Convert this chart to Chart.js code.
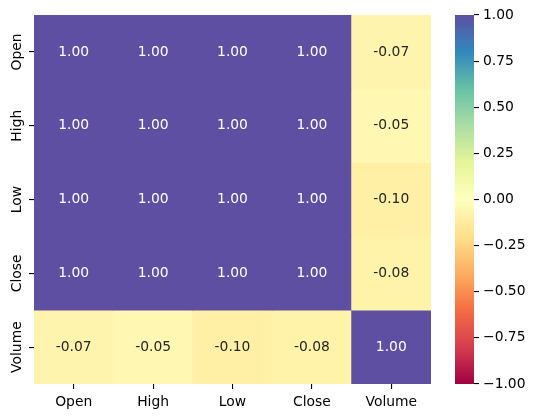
<!DOCTYPE html>
<html>
<head>
<meta charset="utf-8">
<title>Correlation heatmap</title>
<script src="https://cdn.jsdelivr.net/npm/chart.js@4"></script>
<style>
  html, body { margin: 0; padding: 0; background: #fff; }
  #wrap { position: relative; width: 535px; height: 418px; overflow: hidden; }
  canvas { position: absolute; top: 0; }
  #heat { left: 0; }
  #cbar { left: 455px; }
</style>
</head>
<body>
<div id="wrap">
  <canvas id="heat" width="535" height="418"></canvas>
  <canvas id="cbar" width="80" height="418"></canvas>
</div>
<script>
// --- DATA ---
const columns = ["Open", "High", "Low", "Close", "Volume"];
const rowOpen = [1.0, 1.0, 1.0, 1.0, -0.07];
const rowHigh = [1.0, 1.0, 1.0, 1.0, -0.05];
const rowLow = [1.0, 1.0, 1.0, 1.0, -0.1];
const rowClose = [1.0, 1.0, 1.0, 1.0, -0.08];
const rowVolume = [-0.07, -0.05, -0.1, -0.08, 1.0];
const rows = [rowOpen, rowHigh, rowLow, rowClose, rowVolume];
const colorbarRange = [-1, 1];
const colorbarTicks = [-1, -0.75, -0.5, -0.25, 0, 0.25, 0.5, 0.75, 1];

// --- COLORS ---
// Spectral colormap, low to high
const spectral = ["#9e0142", "#d53e4f", "#f46d43", "#fdae61", "#fee08b", "#ffffbf",
  "#e6f598", "#abdda4", "#66c2a5", "#3288bd", "#5e4fa2"];

function hexToRgb(hex) {
  return [1, 3, 5].map((i) => parseInt(hex.slice(i, i + 2), 16));
}

function valueToRgb(v) {
  const pos = ((v + 1) / 2) * (spectral.length - 1);
  const i = Math.min(Math.floor(pos), spectral.length - 2);
  const a = hexToRgb(spectral[i]);
  const b = hexToRgb(spectral[i + 1]);
  return a.map((c, k) => Math.round(c + (b[k] - c) * (pos - i)));
}

function valueToColor(v) {
  return `rgb(${valueToRgb(v).join(",")})`;
}

const FONT = "'DejaVu Sans', sans-serif";
const FONT_SIZE = 13.89;

Chart.defaults.animation = false;
Chart.defaults.font.family = FONT;
Chart.defaults.font.size = FONT_SIZE;
Chart.defaults.color = "#000";

// Writes the value in the middle of each cell
const cellLabels = {
  id: "cellLabels",
  afterDatasetsDraw(chart) {
    const { ctx, scales } = chart;
    ctx.save();
    ctx.font = `${FONT_SIZE}px ${FONT}`;
    ctx.textAlign = "center";
    ctx.textBaseline = "middle";
    rows.forEach((row, r) => {
      row.forEach((v, c) => {
        ctx.fillStyle = v > 0.5 ? "#ffffff" : "#262626";
        ctx.fillText(v.toFixed(2), scales.x.getPixelForValue(c), scales.y.getPixelForValue(r + 0.5));
      });
    });
    ctx.restore();
  },
};

// --- HEATMAP ---
new Chart(document.getElementById("heat"), {
  type: "bar",
  data: {
    labels: columns,
    datasets: rows.map((row) => ({
      data: row.map(() => 1),
      backgroundColor: row.map(valueToColor),
      borderWidth: 0,
      barPercentage: 1,
      categoryPercentage: 1,
    })),
  },
  options: {
    responsive: false,
    layout: { padding: { top: 15, right: 104, bottom: 0, left: 0 } },
    plugins: { legend: { display: false }, tooltip: { enabled: false } },
    scales: {
      x: {
        stacked: true,
        afterFit: (s) => { s.height = 34; },
        border: { display: false },
        grid: { offset: false, drawOnChartArea: false, color: "#000", lineWidth: 1.1, tickLength: 5 },
        ticks: { padding: 5, maxRotation: 0, autoSkip: false },
      },
      y: {
        stacked: true,
        reverse: true,
        min: 0,
        max: columns.length,
        afterFit: (s) => { s.width = 34; },
        afterBuildTicks: (s) => { s.ticks = columns.map((_, i) => ({ value: i + 0.5 })); },
        border: { display: false },
        grid: { drawOnChartArea: false, color: "#000", lineWidth: 1.1, tickLength: 5 },
        ticks: {
          minRotation: 90,
          maxRotation: 90,
          crossAlign: "center",
          padding: -14,
          autoSkip: false,
          callback: (v) => columns[v - 0.5],
        },
      },
    },
  },
  plugins: [cellLabels],
});

// --- COLORBAR ---
function colorbarGradient(context) {
  const { chart } = context;
  if (!chart.chartArea) return spectral[5];
  const yScale = chart.scales.y;
  const g = chart.ctx.createLinearGradient(0, yScale.getPixelForValue(-1), 0, yScale.getPixelForValue(1));
  spectral.forEach((c, i) => g.addColorStop(i / (spectral.length - 1), c));
  return g;
}

new Chart(document.getElementById("cbar"), {
  type: "bar",
  data: {
    labels: [""],
    datasets: [{
      data: [colorbarRange],
      backgroundColor: colorbarGradient,
      borderWidth: 0,
      borderSkipped: false,
      barPercentage: 1,
      categoryPercentage: 1,
    }],
  },
  options: {
    responsive: false,
    layout: { padding: { top: 15, right: 0, bottom: 34, left: 0 } },
    plugins: { legend: { display: false }, tooltip: { enabled: false } },
    scales: {
      x: { display: false },
      y: {
        position: "right",
        min: colorbarRange[0],
        max: colorbarRange[1],
        afterFit: (s) => { s.width = 61; },
        afterBuildTicks: (s) => { s.ticks = colorbarTicks.map((value) => ({ value })); },
        border: { display: false },
        grid: { drawOnChartArea: false, color: "#000", lineWidth: 1.1, tickLength: 5 },
        ticks: {
          padding: 4,
          autoSkip: false,
          callback: (v) => v.toFixed(2).replace("-", "\u2212"),
        },
      },
    },
  },
});
</script>
</body>
</html>
